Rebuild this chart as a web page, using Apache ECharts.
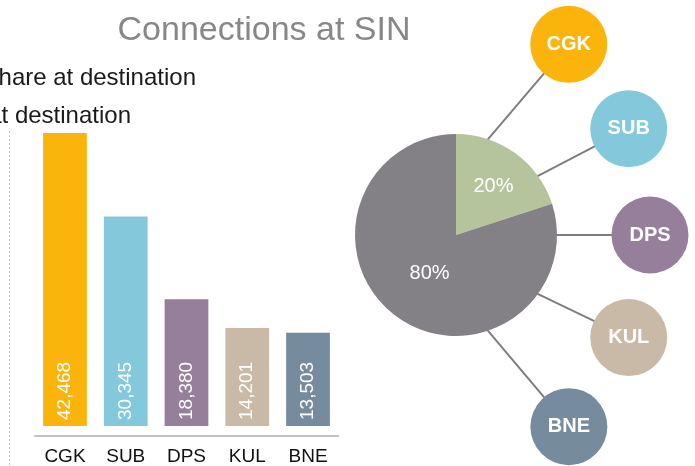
<!DOCTYPE html>
<html>
<head>
<meta charset="utf-8">
<script src="https://cdn.jsdelivr.net/npm/echarts@6/dist/echarts.min.js"></script>
<style>
html,body{margin:0;padding:0;background:#fff;}
#c{width:695px;height:466px;}
</style>
</head>
<body>
<div id="c"></div>
<script>
// ---- data ----
const categories = ['CGK', 'SUB', 'DPS', 'KUL', 'BNE'];
const connections = [42468, 30345, 18380, 14201, 13503];
const barColors = ['#FBB40B', '#84C8DB', '#957F9B', '#C9B9A7', '#778B9E'];
const pieNames = ['Top 5 destinations', 'Other'];
const pieShares = [20, 80];
const pieColors = ['#B6C49D', '#838186'];
const titleText = 'Connections at SIN';
const subtitleLines = ['Share at destination', 'Seats at destination'];

// ---- diagram layout (polar positions of the destination bubbles) ----
const bubbleAngle = [30.6, 58.4, 90, 120.7, 149.5];
const bubbleDist = [221.5, 202.8, 194, 200.9, 222.4];
const spokeAngle = [18, 54, 90, 126, 162];
const pieR = 101;

const chart = echarts.init(document.getElementById('c'), null, {renderer: 'canvas'});
const FONT = '"Liberation Sans", Helvetica, Arial, sans-serif';

const series = [];
series.push({
  type: 'bar',
  xAxisIndex: 0, yAxisIndex: 0,
  barCategoryGap: '28%',
  data: connections.map((v, i) => ({value: v, itemStyle: {color: barColors[i]}})),
  label: {
    show: true, position: 'insideBottom', rotate: 90, align: 'left', verticalAlign: 'middle',
    distance: 6, color: '#fff', fontSize: 19, fontFamily: FONT,
    formatter: p => p.value.toLocaleString('en-US')
  },
  silent: true
});
// spokes
categories.forEach((c, i) => {
  series.push({
    type: 'line', coordinateSystem: 'polar', polarIndex: 0,
    data: [[pieR - 2, spokeAngle[i]], [bubbleDist[i], bubbleAngle[i]]],
    symbol: 'none', lineStyle: {color: '#7E7E7E', width: 2}, z: 1, silent: true
  });
});
series.push({
  type: 'pie', center: [456, 235], radius: [0, pieR], startAngle: 90, clockwise: true,
  z: 3, silent: true,
  data: pieShares.map((v, i) => ({
    value: v, name: pieNames[i], itemStyle: {color: pieColors[i]},
    label: {offset: i === 0 ? [6, -5] : [5, -5]}
  })),
  label: {show: true, position: 'inside', formatter: '{d}%', color: '#fff', fontSize: 20, fontFamily: FONT},
  labelLine: {show: false}
});
series.push({
  type: 'scatter', coordinateSystem: 'polar', polarIndex: 0,
  symbolSize: 77, z: 4, silent: true,
  data: categories.map((c, i) => ({value: [bubbleDist[i], bubbleAngle[i]], name: c, itemStyle: {color: barColors[i], opacity: 1}})),
  label: {show: true, position: 'inside', formatter: p => p.name, color: '#fff', fontSize: 20, fontWeight: 'bold', fontFamily: FONT}
});

chart.setOption({
  animation: false,
  backgroundColor: '#fff',
  textStyle: {fontFamily: FONT},
  grid: {left: 34.6, right: 356.6, top: 115.41, bottom: 38, containLabel: false},
  xAxis: {
    type: 'category', data: categories, offset: 10,
    axisLine: {onZero: false, lineStyle: {color: '#AFAFAF', width: 1.5}},
    axisTick: {show: false},
    axisLabel: {color: '#111', fontSize: 19, margin: 11, fontFamily: FONT}
  },
  yAxis: {type: 'value', min: 0, max: 45000, show: false, splitLine: {show: false}},
  polar: {center: [456, 235], radius: 300},
  radiusAxis: {type: 'value', min: 0, max: 300, show: false, axisLine: {show: false}, splitLine: {show: false}},
  angleAxis: {type: 'value', min: 0, max: 360, startAngle: 90, clockwise: true, show: false, splitLine: {show: false}},
  graphic: [
    {type: 'text', x: 264, y: 31, style: {text: titleText, fill: '#878787', fontSize: 34, fontFamily: FONT, textAlign: 'center', textVerticalAlign: 'middle'}},
    {type: 'text', x: 196, y: 78, style: {text: subtitleLines[0], fill: '#1a1a1a', fontSize: 24, fontFamily: FONT, textAlign: 'right', textVerticalAlign: 'middle'}},
    {type: 'text', x: 131, y: 116, style: {text: subtitleLines[1], fill: '#1a1a1a', fontSize: 24, fontFamily: FONT, textAlign: 'right', textVerticalAlign: 'middle'}},
    {type: 'line', shape: {x1: 9.5, y1: 131, x2: 9.5, y2: 466}, style: {stroke: '#C8C8C8', lineWidth: 1, lineDash: [2, 2]}}
  ],
  series: series
});
</script>
</body>
</html>
